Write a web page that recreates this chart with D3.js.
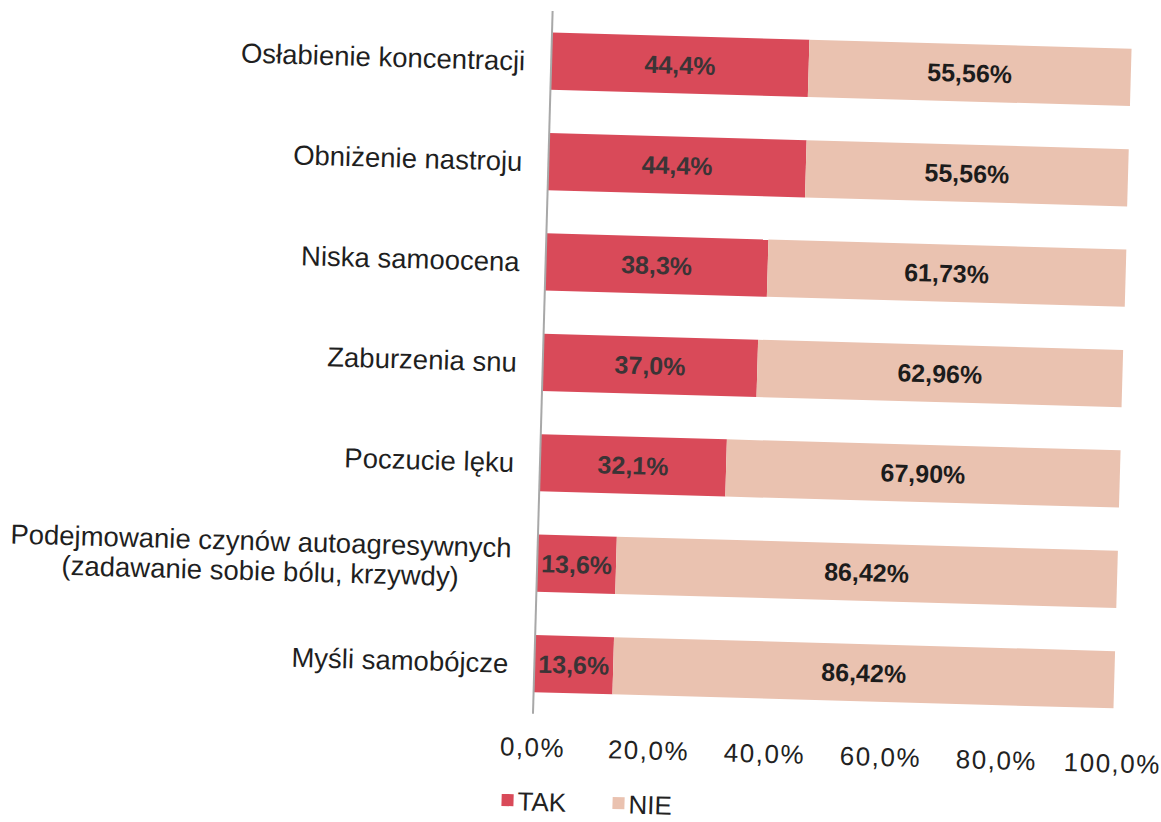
<!DOCTYPE html>
<html>
<head>
<meta charset="utf-8">
<script src="https://cdn.jsdelivr.net/npm/d3@7/dist/d3.min.js"></script>
<style>
  html, body { margin: 0; padding: 0; background: #ffffff; }
  svg { display: block; }
  text { font-family: "Liberation Sans", Arial, sans-serif; }
</style>
</head>
<body>
<svg id="chart" width="1161" height="822"></svg>
<script>
// Symptom categories (top to bottom); "\n" splits a label into lines
const categories = [
  "Osłabienie koncentracji",
  "Obniżenie nastroju",
  "Niska samoocena",
  "Zaburzenia snu",
  "Poczucie lęku",
  "Podejmowanie czynów autoagresywnych\n(zadawanie sobie bólu, krzywdy)",
  "Myśli samobójcze"
];
// Share of answers, in percent
const tak = [44.4, 44.4, 38.3, 37.0, 32.1, 13.6, 13.6];
const nie = [55.56, 55.56, 61.73, 62.96, 67.90, 86.42, 86.42];
const ticks = [0, 20, 40, 60, 80, 100];
const seriesNames = ["TAK", "NIE"];
const seriesColors = ["#d94a59", "#eac2b0"];

const svg = d3.select("#chart");
const W = 580;            // plot width (0% .. 100%)
const fmt = (v, d) => v.toFixed(d).replace(".", ",") + "%";

// The whole chart sits slightly tilted on the page
const g = svg.append("g").attr("transform", "translate(552,33) rotate(1.6)");

const x = d3.scaleLinear().domain([0, 100]).range([0, W]);
const y = d3.scaleBand().domain(categories).range([-22, 681])
  .paddingInner(0.43).paddingOuter(0.215);

const rows = categories.map((c, i) => ({ c, tak: tak[i], nie: nie[i] }));

// TAK segments
g.selectAll("rect.tak").data(rows).join("rect")
  .attr("class", "tak")
  .attr("x", x(0))
  .attr("y", d => y(d.c))
  .attr("width", d => x(d.tak) - x(0))
  .attr("height", y.bandwidth())
  .attr("fill", seriesColors[0]);

// NIE segments, stacked after TAK
g.selectAll("rect.nie").data(rows).join("rect")
  .attr("class", "nie")
  .attr("x", d => x(d.tak))
  .attr("y", d => y(d.c))
  .attr("width", d => x(d.tak + d.nie) - x(d.tak))
  .attr("height", y.bandwidth())
  .attr("fill", seriesColors[1]);

// Value labels
g.selectAll("text.ltak").data(rows).join("text")
  .attr("class", "ltak")
  .attr("x", d => x(d.tak / 2))
  .attr("y", d => y(d.c) + y.bandwidth() / 2 + 9)
  .attr("text-anchor", "middle")
  .attr("font-size", 25).attr("font-weight", "bold")
  .attr("fill", "#3b3436")
  .text(d => fmt(d.tak, 1));

g.selectAll("text.lnie").data(rows).join("text")
  .attr("class", "lnie")
  .attr("x", d => x(d.tak + d.nie / 2))
  .attr("y", d => y(d.c) + y.bandwidth() / 2 + 9)
  .attr("text-anchor", "middle")
  .attr("font-size", 25).attr("font-weight", "bold")
  .attr("fill", "#1c1c1c")
  .text(d => fmt(d.nie, 2));

// Vertical category axis line
g.append("line")
  .attr("x1", x(0)).attr("x2", x(0))
  .attr("y1", -22).attr("y2", 681)
  .attr("stroke", "#a8a8a8").attr("stroke-width", 2);

// Category labels
const catG = g.append("g");
rows.forEach(d => {
  const lines = d.c.split("\n");
  const cy = y(d.c) + y.bandwidth() / 2;
  const lh = 30;
  const t = catG.append("text")
    .attr("font-size", 27.5).attr("fill", "#1f1f1f")
    .attr("text-anchor", lines.length > 1 ? "middle" : "end");
  lines.forEach((ln, j) => {
    t.append("tspan")
      .attr("x", -26)
      .attr("y", cy + 10 + (j - (lines.length - 1) / 2) * lh)
      .text(ln);
  });
  if (lines.length > 1) {
    const bb = t.node().getBBox();
    t.selectAll("tspan").attr("x", -26 - bb.width / 2);
  }
});

// Percentage axis
const xAxis = d3.axisBottom(x).tickValues(ticks).tickSize(0).tickPadding(24)
  .tickFormat(v => fmt(v, 1));
const ax = g.append("g").attr("transform", "translate(0,681)").call(xAxis);
ax.select(".domain").remove();
ax.selectAll("text").attr("font-size", 26).attr("fill", "#222")
  .attr("letter-spacing", 1.5)
  .style("font-family", "'Liberation Sans', Arial, sans-serif");

// Legend
const leg = g.append("g").attr("transform", "translate(0,767)");
const legX = [-29, 82];
seriesNames.forEach((s, i) => {
  leg.append("rect").attr("x", legX[i]).attr("y", -5)
    .attr("width", 12).attr("height", 12).attr("fill", seriesColors[i]);
  leg.append("text").attr("x", legX[i] + 16).attr("y", 11)
    .attr("font-size", 26).attr("fill", "#222").text(s);
});
</script>
</body>
</html>
